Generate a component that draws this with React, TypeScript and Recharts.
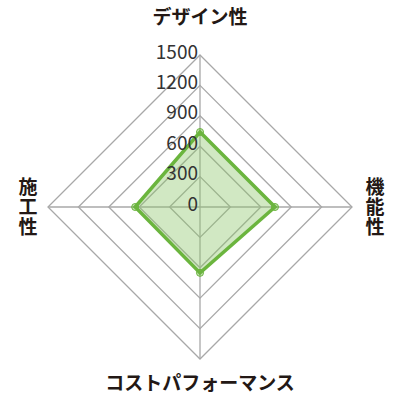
import React from 'react';
import { RadarChart, Radar, PolarGrid, PolarAngleAxis, PolarRadiusAxis } from 'recharts';

// axis order: top, right, bottom, left (clockwise)
const categories = ['デザイン性', '機能性', 'コストパフォーマンス', '施工性'];
const scores = [740, 740, 650, 640];
const radiusTicks = [0, 300, 600, 900, 1200, 1500];

const data = categories.map((name, i) => ({ name, score: scores[i] }));

const FONT = '"Noto Sans CJK JP", "Noto Sans", sans-serif';
const TEXT = '#231815';

const AngleTick = (props: any) => {
  const { x, y, payload } = props;
  const label: string = payload.value;
  if (label === '機能性' || label === '施工性') {
    // vertical text on the sides
    const dx = label === '機能性' ? 15 : -12;
    return (
      <text x={x + dx} y={y} textAnchor="middle" fill={TEXT} fontFamily={FONT} fontSize={19} fontWeight={600}
        style={{ writingMode: 'vertical-rl', letterSpacing: 1 }}>
        {label}
      </text>
    );
  }
  const dy = label === 'デザイン性' ? -32 : 14;
  return (
    <text x={x} y={y + dy} textAnchor="middle" dominantBaseline="central" fill={TEXT} fontFamily={FONT} fontSize={19} fontWeight={600}>
      {label}
    </text>
  );
};

const RadiusTick = (props: any) => {
  const { x, y, payload } = props;
  return (
    <text x={x - 2} y={y - 5} textAnchor="end" dominantBaseline="central" fill="#333" fontFamily={FONT} fontSize={19} fontWeight={400}>
      {payload.value}
    </text>
  );
};

export default function App() {
  return (
    <div style={{ position: 'fixed', left: 0, top: 0, width: 400, height: 400, background: '#fff' }}>
      <RadarChart width={400} height={400} cx={200} cy={207} outerRadius={152} data={data} margin={{ top: 0, right: 0, bottom: 0, left: 0 }}>
        <PolarGrid gridType="polygon" stroke="#a8a8a8" strokeWidth={1.3} />
        <PolarAngleAxis dataKey="name" tick={<AngleTick />} tickLine={false} axisLine={false} />
        <PolarRadiusAxis
          angle={90}
          domain={[0, 1500]}
          ticks={radiusTicks}
          tick={<RadiusTick />}
          axisLine={false}
          tickLine={false}
        />
        <Radar
          dataKey="score"
          stroke="#6bb53e"
          strokeWidth={3.5}
          fill="#8cc66a"
          fillOpacity={0.4}
          dot={{ r: 3.5, fill: '#6bb53e', stroke: '#6bb53e', strokeWidth: 1 }}
          isAnimationActive={false}
        />
      </RadarChart>
    </div>
  );
}
